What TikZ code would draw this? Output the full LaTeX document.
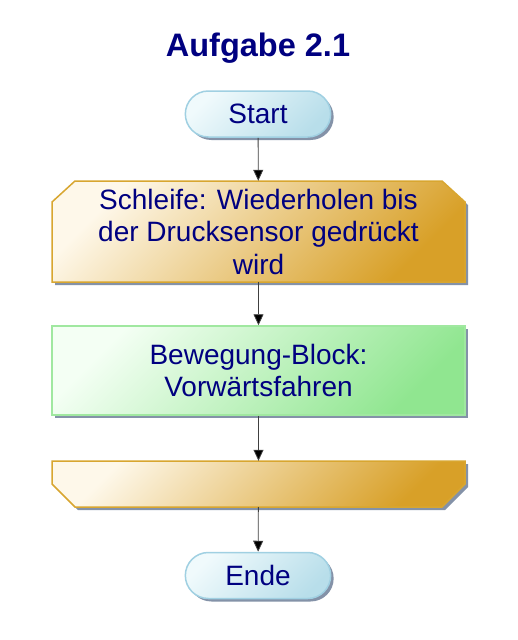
\documentclass[tikz,border=0pt]{standalone}
\usepackage{fontspec}
\setmainfont{Liberation Sans}
\usetikzlibrary{shapes.misc,shadows,arrows.meta}

\definecolor{txtblue}{RGB}{0,0,128}
\definecolor{termline}{RGB}{160,208,226}
\definecolor{termlight}{RGB}{240,250,252}
\definecolor{termdark}{RGB}{184,222,234}
\definecolor{loopline}{RGB}{216,166,48}
\definecolor{looplight}{RGB}{254,248,234}
\definecolor{loopdark}{RGB}{216,160,40}
\definecolor{actline}{RGB}{160,232,160}
\definecolor{actlight}{RGB}{244,255,244}
\definecolor{actdark}{RGB}{144,230,144}
\definecolor{shadowgray}{RGB}{132,146,168}

\tikzset{
  boxshadow/.style={drop shadow={shadow xshift=3pt,shadow yshift=-3pt,fill=shadowgray,opacity=1}},
  term/.style={rounded rectangle,draw=termline,line width=1.5pt,boxshadow,
    top color=termlight,bottom color=termdark,shading angle=45,
    minimum width=152pt,minimum height=46pt,font=\fontsize{28}{32}\selectfont},
  % chamfered outline of the loop blocks, drawn as a plain path
  loopshape/.style={draw=loopline,line width=1.5pt,boxshadow,
    top color=looplight,bottom color=loopdark,shading angle=45},
  looptext/.style={rectangle,minimum width=413pt,align=center,
    font=\fontsize{28}{32.5}\selectfont},
  actbox/.style={rectangle,draw=actline,line width=1.5pt,boxshadow,
    top color=actlight,bottom color=actdark,shading angle=45,
    minimum width=413pt,minimum height=89pt,align=center,
    font=\fontsize{28}{32.5}\selectfont},
  flow/.style={draw=black!75,line width=0.8pt,-{Triangle[length=11pt,width=10pt,fill=black]}}
}

\begin{document}
\begin{tikzpicture}[x=1pt,y=-1pt,text=txtblue]
    \useasboundingbox[fill=white] (0,0) rectangle (517,640);
    \node[font=\fontsize{32.5}{36}\selectfont\bfseries] (TT) at (258,48) {Aufgabe 2.1};
    \node[term] (AA) at (258,114) {Start};

    % loop head and loop end
    \path[loopshape] (52,202) -- (75,181) -- (442,181) -- (465,202) -- (465,282) -- (52,282) -- cycle;
    \node[looptext,minimum height=101pt] (AB) at (258.5,231.5) {Schleife: Wiederholen bis\\der Drucksensor gedrückt\\wird};
    \node[actbox] (AC) at (258.5,370.5) {Bewegung-Block:\\Vorwärtsfahren};
    \path[loopshape] (52,461) -- (465,461) -- (465,484) -- (442,507) -- (75,507) -- (52,484) -- cycle;
    \node[looptext,minimum height=46pt] (AD) at (258.5,484) {};
    \node[term] (AE) at (258,575.5) {Ende};

    \draw[flow] (AA)--(AB);
    \draw[flow] (AB)--(AC);
    \draw[flow] (AC)--(AD);
    \draw[flow] (AD)--(AE);
\end{tikzpicture}
\end{document}
